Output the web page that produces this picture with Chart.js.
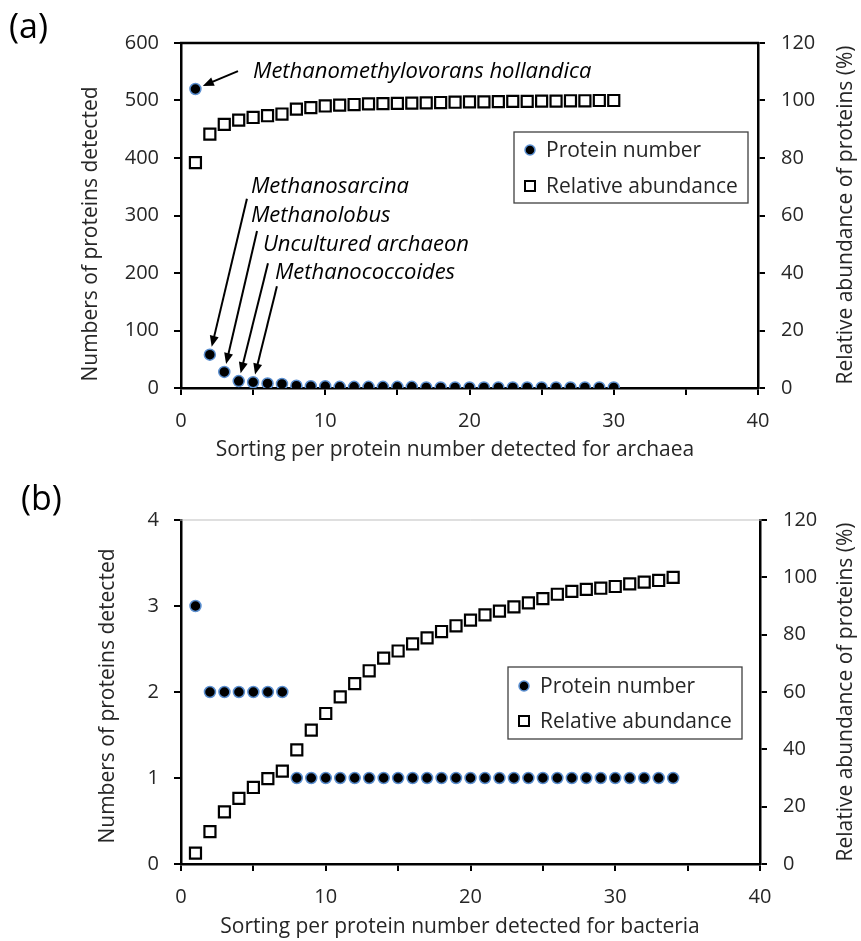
<!DOCTYPE html>
<html lang="en">
<head>
<meta charset="UTF-8">
<title>Protein number and relative abundance</title>
<style>
  body { margin: 0; background: #fff; }
  .painel { position: absolute; left: 0; width: 861px; }
  #painelA { top: 0; height: 470px; }
  #painelB { top: 470px; height: 471px; }
  .letra { position: absolute; font-family: 'Open Sans', sans-serif; font-size: 34px; line-height: 1; color: #000; }
</style>
</head>
<body>
<div class="painel" id="painelA"><canvas id="chartA"></canvas></div>
<div class="painel" id="painelB"><canvas id="chartB"></canvas></div>
<div class="letra" style="left:9px;top:8px">(a)</div>
<div class="letra" style="left:21px;top:480px">(b)</div>

<script src="https://cdn.jsdelivr.net/npm/chart.js"></script>
<script>
const FONTE = "'Open Sans', sans-serif";
const COR_TEXTO = '#262626';

// (a) archaea
const ordemArchaea = [1, 2, 3, 4, 5, 6, 7, 8, 9, 10, 11, 12, 13, 14, 15, 16, 17, 18, 19, 20, 21, 22, 23, 24, 25, 26, 27, 28, 29, 30];
const proteinasArchaea = [520, 58, 28, 12, 10, 8, 7, 4, 3, 3, 2, 2, 2, 2, 2, 2, 1, 1, 1, 1, 1, 1, 1, 1, 1, 1, 1, 1, 1, 1];
const abundanciaArchaea = [78.4, 88.3, 91.7, 93.2, 94.1, 94.7, 95.3, 97.0, 97.5, 98.1, 98.4, 98.6, 98.8, 98.9, 99.0, 99.1, 99.2, 99.3, 99.4, 99.5, 99.5, 99.6, 99.7, 99.7, 99.8, 99.8, 99.9, 99.9, 100, 100];

// (b) bacteria
const ordemBacteria = [1, 2, 3, 4, 5, 6, 7, 8, 9, 10, 11, 12, 13, 14, 15, 16, 17, 18, 19, 20, 21, 22, 23, 24, 25, 26, 27, 28, 29, 30, 31, 32, 33, 34];
const proteinasBacteria = [3, 2, 2, 2, 2, 2, 2, 1, 1, 1, 1, 1, 1, 1, 1, 1, 1, 1, 1, 1, 1, 1, 1, 1, 1, 1, 1, 1, 1, 1, 1, 1, 1, 1];
const abundanciaBacteria = [3.8, 11.3, 18.2, 22.9, 26.7, 29.8, 32.4, 39.8, 46.7, 52.5, 58.3, 62.9, 67.4, 71.8, 74.3, 76.8, 78.9, 81.1, 83.1, 85.1, 86.9, 88.2, 89.7, 91.1, 92.6, 94.1, 95.1, 95.8, 96.2, 96.8, 97.7, 98.3, 98.9, 100];

const nomesSeries = ['Protein number', 'Relative abundance'];

// especies apontadas no grafico (a): indice do ponto, posicao do texto e da cauda da seta (em valores dos eixos)
const especiesArchaea = [
    { nome: 'Methanomethylovorans hollandica', ponto: 0, texto: [4.99, 550], cauda: [3.95, 551] },
    { nome: 'Methanosarcina', ponto: 1, texto: [4.85, 350], cauda: [4.57, 329] },
    { nome: 'Methanolobus', ponto: 2, texto: [4.85, 299], cauda: [5.27, 273] },
    { nome: 'Uncultured archaeon', ponto: 3, texto: [5.68, 249], cauda: [6.03, 217] },
    { nome: 'Methanococcoides', ponto: 4, texto: [6.51, 200], cauda: [6.65, 177] }
];

// legenda desenhada dentro da area do grafico
const caixaLegenda = {
    id: 'caixaLegenda',
    afterDatasetsDraw(chart, args, opts) {
        const ctx = chart.ctx, ca = chart.chartArea;
        const x0 = ca.left + opts.dx, y0 = ca.top + opts.dy;
        ctx.save();
        ctx.fillStyle = '#fff';
        ctx.fillRect(x0, y0, opts.largura, opts.altura);
        ctx.strokeStyle = '#404040';
        ctx.lineWidth = 1.3;
        ctx.strokeRect(x0, y0, opts.largura, opts.altura);
        chart.data.datasets.forEach((ds, i) => {
            const cx = x0 + 16, cy = y0 + opts.linhas[i];
            if (ds.pointStyle === 'rect') {
                ctx.fillStyle = '#fff';
                ctx.strokeStyle = '#000';
                ctx.lineWidth = 2;
                ctx.fillRect(cx - 5, cy - 5, 10, 10);
                ctx.strokeRect(cx - 5, cy - 5, 10, 10);
            } else {
                ctx.beginPath();
                ctx.arc(cx, cy, 5, 0, Math.PI * 2);
                ctx.fillStyle = '#000';
                ctx.fill();
                ctx.strokeStyle = '#5b8fd0';
                ctx.lineWidth = 1.5;
                ctx.stroke();
            }
            ctx.fillStyle = COR_TEXTO;
            ctx.font = `21px ${FONTE}`;
            ctx.textBaseline = 'middle';
            ctx.textAlign = 'left';
            ctx.fillText(ds.label, x0 + 32, cy + 1);
        });
        ctx.restore();
    }
};

// titulos dos eixos e borda superior
const titulosEixos = {
    id: 'titulosEixos',
    afterDraw(chart, args, opts) {
        const ctx = chart.ctx, ca = chart.chartArea;
        ctx.save();
        ctx.strokeStyle = opts.corTopo;
        ctx.lineWidth = opts.larguraTopo;
        ctx.beginPath();
        ctx.moveTo(ca.left - 1, ca.top);
        ctx.lineTo(ca.right + 1, ca.top);
        ctx.stroke();

        ctx.fillStyle = COR_TEXTO;
        ctx.font = `21px ${FONTE}`;
        ctx.textAlign = 'center';
        ctx.textBaseline = 'middle';
        ctx.fillText(opts.inferior.texto, opts.inferior.x, opts.inferior.y);

        ctx.save();
        ctx.translate(opts.esquerda.x, opts.esquerda.y);
        ctx.rotate(-Math.PI / 2);
        ctx.fillText(opts.esquerda.texto, 0, 0);
        ctx.restore();

        ctx.save();
        ctx.translate(opts.direita.x, opts.direita.y);
        ctx.rotate(-Math.PI / 2);
        ctx.fillText(opts.direita.texto, 0, 0);
        ctx.restore();
        ctx.restore();
    }
};

// nomes das especies com setas
const setasEspecies = {
    id: 'setasEspecies',
    afterDatasetsDraw(chart, args, opts) {
        if (!opts.itens) return;
        const ctx = chart.ctx, sx = chart.scales.x, sy = chart.scales.y;
        const pontos = chart.getDatasetMeta(0).data;
        ctx.save();
        opts.itens.forEach(item => {
            const p = pontos[item.ponto];
            const tx = sx.getPixelForValue(item.cauda[0]), ty = sy.getPixelForValue(item.cauda[1]);
            const dx = tx - p.x, dy = ty - p.y, d = Math.hypot(dx, dy);
            const ux = dx / d, uy = dy / d;
            const px = p.x + ux * 8, py = p.y + uy * 8;
            ctx.strokeStyle = '#000';
            ctx.fillStyle = '#000';
            ctx.lineWidth = 2;
            ctx.beginPath();
            ctx.moveTo(tx, ty);
            ctx.lineTo(px + ux * 9, py + uy * 9);
            ctx.stroke();
            ctx.beginPath();
            ctx.moveTo(px, py);
            ctx.lineTo(px + ux * 11 - uy * 4.5, py + uy * 11 + ux * 4.5);
            ctx.lineTo(px + ux * 11 + uy * 4.5, py + uy * 11 - ux * 4.5);
            ctx.closePath();
            ctx.fill();

            ctx.font = `italic 22px ${FONTE}`;
            ctx.textAlign = 'left';
            ctx.textBaseline = 'middle';
            ctx.fillStyle = '#000';
            ctx.fillText(item.nome, sx.getPixelForValue(item.texto[0]), sy.getPixelForValue(item.texto[1]));
        });
        ctx.restore();
    }
};

function eixoY(posicao, max, passo, largura, padding) {
    return {
        type: 'linear',
        position: posicao,
        min: 0,
        max: max,
        ticks: { stepSize: passo, color: COR_TEXTO, font: { family: FONTE, size: 20 }, padding: padding },
        grid: { drawOnChartArea: false, color: '#000', lineWidth: 2, tickLength: 7 },
        border: { color: '#000', width: 2.5 },
        afterFit: s => { s.width = largura; }
    };
}

function montarGrafico(id, ordem, proteinas, abundancia, cfg) {
    const pontosProteina = ordem.map((x, i) => ({ x: x, y: proteinas[i] }));
    const pontosAbundancia = ordem.map((x, i) => ({ x: x, y: abundancia[i] }));

    return new Chart(document.getElementById(id), {
        type: 'scatter',
        data: {
            datasets: [{
                label: nomesSeries[0],
                data: pontosProteina,
                yAxisID: 'y',
                pointStyle: 'circle',
                pointRadius: 5.5,
                backgroundColor: '#000',
                borderColor: '#5b8fd0',
                borderWidth: 1.5
            }, {
                label: nomesSeries[1],
                data: pontosAbundancia,
                yAxisID: 'y1',
                pointStyle: 'rect',
                pointRadius: 7.8,
                backgroundColor: '#fff',
                borderColor: '#000',
                borderWidth: 2.2
            }]
        },
        options: {
            responsive: true,
            maintainAspectRatio: false,
            animation: false,
            layout: { padding: { top: cfg.topo, left: 0, right: 0, bottom: 0 } },
            scales: {
                x: {
                    type: 'linear',
                    min: 0,
                    max: 40,
                    ticks: {
                        stepSize: 5,
                        autoSkip: false,
                        maxRotation: 0,
                        color: COR_TEXTO,
                        font: { family: FONTE, size: 20 },
                        padding: 14,
                        callback: v => (v % 10 === 0 ? v : '')
                    },
                    grid: { drawOnChartArea: false, color: '#000', lineWidth: 2, tickLength: 7 },
                    border: { color: '#000', width: 2.5 },
                    afterFit: s => { s.height = cfg.alturaX; }
                },
                y: eixoY('left', cfg.maxEsq, cfg.passoEsq, 181, 15),
                y1: eixoY('right', 120, 20, cfg.larguraDir, 16)
            },
            plugins: {
                legend: { display: false },
                tooltip: { enabled: false },
                caixaLegenda: cfg.legenda,
                titulosEixos: cfg.titulos,
                setasEspecies: { itens: cfg.especies }
            }
        },
        plugins: [caixaLegenda, titulosEixos, setasEspecies]
    });
}

montarGrafico('chartA', ordemArchaea, proteinasArchaea, abundanciaArchaea, {
    topo: 43, alturaX: 82, larguraDir: 103, maxEsq: 600, passoEsq: 100,
    legenda: { dx: 333, dy: 89, largura: 234, altura: 71, linhas: [18, 54] },
    titulos: {
        corTopo: '#000', larguraTopo: 2.5,
        inferior: { texto: 'Sorting per protein number detected for archaea', x: 455, y: 450 },
        esquerda: { texto: 'Numbers of proteins detected', x: 91, y: 234 },
        direita: { texto: 'Relative abundance of proteins (%)', x: 846, y: 215 }
    },
    especies: especiesArchaea
});

montarGrafico('chartB', ordemBacteria, proteinasBacteria, abundanciaBacteria, {
    topo: 50, alturaX: 77, larguraDir: 101, maxEsq: 4, passoEsq: 1,
    legenda: { dx: 327, dy: 147, largura: 234, altura: 72, linhas: [19, 54] },
    titulos: {
        corTopo: '#bfbfbf', larguraTopo: 1,
        inferior: { texto: 'Sorting per protein number detected for bacteria', x: 460, y: 457 },
        esquerda: { texto: 'Numbers of proteins detected', x: 108, y: 226 },
        direita: { texto: 'Relative abundance of proteins (%)', x: 846, y: 222 }
    },
    especies: null
});
</script>
</body>
</html>
